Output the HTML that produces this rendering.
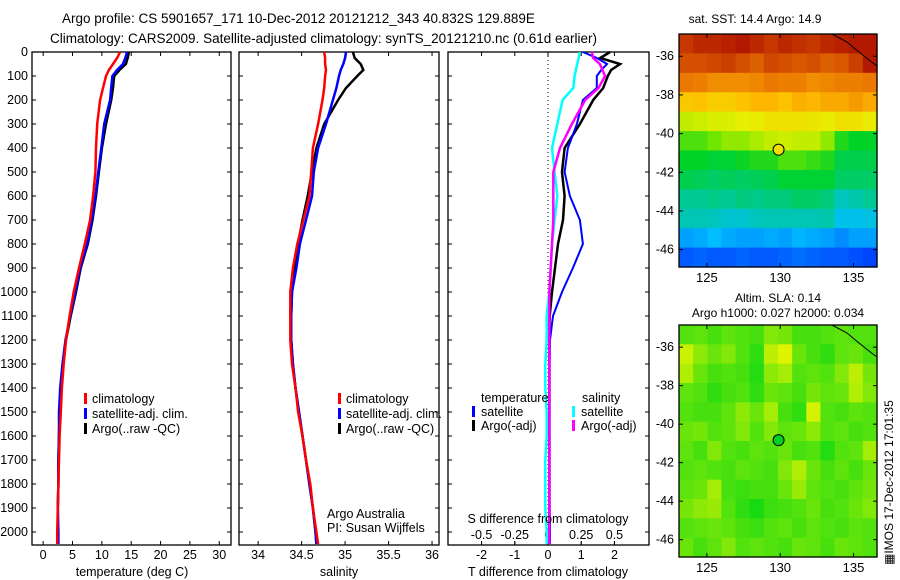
<!DOCTYPE html>
<html><head><meta charset="utf-8"><style>
body{margin:0;background:#fff;}
svg{display:block;font-family:"Liberation Sans",sans-serif;}
</style></head><body>
<svg id="c" width="900" height="580" viewBox="0 0 900 580">
<text x="62" y="23" font-size="13.5">Argo profile: CS 5901657_171 10-Dec-2012 20121212_343 40.832S 129.889E</text>
<text x="50" y="43" font-size="13.5">Climatology: CARS2009. Satellite-adjusted climatology: synTS_20121210.nc (0.61d earlier)</text>
<text x="755" y="23" font-size="12" text-anchor="middle">sat. SST: 14.4 Argo: 14.9</text>
<text x="778" y="302" font-size="12" text-anchor="middle">Altim. SLA: 0.14</text>
<text x="778" y="317" font-size="12" text-anchor="middle">Argo h1000: 0.027 h2000: 0.034</text>
<text transform="translate(893,565) rotate(-90)" font-size="12">&#9638;IMOS 17-Dec-2012 17:01:35</text>
<g id="g"></g>
</svg>
<script>
// ---------- data ----------
const depths = [0,25,50,75,100,150,200,300,400,500,600,700,800,900,1000,1100,1200,1300,1400,1500,1600,1700,1800,1900,2000,2050];
const tempClim = [13.1,12.6,11.9,11.2,10.7,10.2,9.7,9.2,9.0,8.9,8.5,8.0,7.1,6.1,5.2,4.5,3.9,3.5,3.2,3.0,2.8,2.7,2.6,2.5,2.4,2.4];
const tempSat  = [14.3,14.0,13.6,12.6,11.8,11.6,11.4,10.4,9.9,9.4,8.9,8.3,7.5,6.3,5.5,4.6,3.8,3.3,2.9,2.7,2.7,2.6,2.6,2.5,2.6,2.6];
const tempArgo = [14.6,14.4,14.1,13.0,12.1,11.9,11.6,10.7,10.0,9.5,9.0,8.4,7.6,6.4,5.6,4.7,3.9,3.4,3.0,2.8,2.7,2.6,2.6,2.5,2.5,2.5];
const salClim = [34.76,34.77,34.77,34.78,34.77,34.76,34.74,34.69,34.63,34.61,34.59,34.52,34.45,34.40,34.37,34.37,34.37,34.39,34.43,34.46,34.51,34.55,34.60,34.63,34.67,34.69];
const salSat  = [35.01,35.00,34.98,34.95,34.93,34.90,34.86,34.78,34.69,34.64,34.62,34.55,34.48,34.44,34.39,34.38,34.38,34.40,34.43,34.47,34.51,34.55,34.59,34.63,34.66,34.67];
const salArgo = [35.09,35.11,35.18,35.21,35.14,35.01,34.92,34.76,34.67,34.62,34.57,34.51,34.46,34.42,34.39,34.38,34.38,34.40,34.43,34.47,34.51,34.55,34.59,34.63,34.66,34.67];
const dTsat  = [1.05,1.47,1.78,1.6,1.47,1.47,1.05,0.87,0.6,0.5,0.66,0.96,1.05,0.75,0.42,0.15,0.06,0.05,0.05,0.05,0.05,0.05,0.05,0.05,0.06,0.06];
const dTargo = [1.87,1.57,2.17,1.9,1.8,1.66,1.36,0.96,0.5,0.42,0.5,0.45,0.3,0.21,0.12,0.05,0.04,0.04,0.04,0.04,0.04,0.04,0.04,0.04,0.04,0.04];
const dSargo = [0.33,0.34,0.39,0.41,0.43,0.38,0.28,0.18,0.09,0.04,0.04,0.04,0.03,0.02,0.01,0.01,0.01,0.01,0.01,0.01,0.01,0.01,0.01,0.01,0.01,0.01];
const dSsat  = [0.24,0.23,0.22,0.21,0.2,0.19,0.11,0.07,0.03,0.05,0.07,0.05,0.03,0.02,0.01,-0.01,-0.01,-0.02,-0.02,-0.01,-0.01,-0.02,-0.02,-0.02,-0.01,-0.01];
const depthTicks = [0,100,200,300,400,500,600,700,800,900,1000,1100,1200,1300,1400,1500,1600,1700,1800,1900,2000];
const tempTicks = [0,5,10,15,20,25,30];
const salTicks = [34,34.5,35,35.5,36];
const salTickLabels = ["34","34.5","35","35.5","36"];
const dTTicks = [-2,-1,0,1,2];
const dSTicks = [-0.5,-0.25,0,0.25,0.5];
const dSTickLabels = ["-0.5","-0.25","0","0.25","0.5"];
const latTicks = [-36,-38,-40,-42,-44,-46];
const lonTicks = [125,130,135];
const argoLon = 129.889, argoLat = -40.832;
// SST map (0..1 on jet scale), rows north->south
const sstGrid = [
[.93,.95,.95,.96,.97,.95,.93,.95,.94,.93,.95,.96,.97,.97],
[.90,.90,.91,.92,.90,.88,.91,.90,.89,.90,.88,.89,.92,.97],
[.85,.84,.82,.82,.82,.83,.85,.84,.84,.82,.83,.84,.84,.85],
[.73,.74,.72,.72,.74,.76,.76,.74,.77,.76,.78,.78,.80,.78],
[.62,.63,.64,.64,.65,.66,.68,.68,.68,.67,.66,.68,.68,.66],
[.52,.52,.55,.58,.58,.60,.62,.63,.62,.62,.58,.48,.45,.45],
[.45,.45,.44,.44,.46,.48,.48,.52,.52,.50,.48,.42,.42,.42],
[.42,.41,.40,.41,.40,.41,.42,.44,.44,.44,.44,.40,.40,.40],
[.36,.36,.37,.36,.38,.37,.38,.38,.40,.40,.38,.32,.34,.36],
[.33,.33,.32,.30,.30,.32,.33,.33,.33,.33,.34,.27,.27,.28],
[.22,.23,.25,.23,.22,.22,.23,.22,.24,.23,.22,.20,.22,.22],
[.15,.16,.15,.15,.16,.15,.15,.16,.17,.16,.15,.15,.14,.13]];
// SLA map (0 = green, 1 = yellow)
const slaGrid = [
[.35,.40,.30,.40,.35,.30,.55,.50,.30,.30,.35,.40,.35,.35],
[.85,.60,.45,.55,.35,.20,.80,.95,.45,.30,.20,.40,.45,.30],
[.75,.45,.30,.35,.30,.15,.60,.70,.35,.40,.35,.55,.80,.50],
[.40,.35,.20,.30,.35,.20,.45,.40,.30,.50,.40,.45,.75,.55],
[.35,.30,.30,.40,.60,.45,.70,.30,.20,.90,.35,.30,.40,.35],
[.45,.50,.35,.40,.55,.35,.55,.40,.45,.60,.35,.40,.30,.35],
[.40,.30,.55,.35,.30,.40,.35,.45,.30,.35,.15,.35,.40,.70],
[.35,.40,.35,.30,.40,.35,.30,.55,.75,.45,.30,.40,.30,.45],
[.40,.45,.70,.30,.25,.30,.30,.45,.65,.40,.35,.30,.40,.50],
[.50,.60,.65,.35,.20,.10,.25,.30,.35,.45,.30,.35,.45,.55],
[.35,.40,.45,.40,.30,.25,.35,.40,.30,.40,.35,.30,.40,.35],
[.45,.30,.40,.55,.35,.40,.35,.30,.45,.40,.30,.45,.40,.35]];

// ---------- layout ----------
const NS="http://www.w3.org/2000/svg", G=document.getElementById('g');
function el(tag, attrs, parent){const e=document.createElementNS(NS,tag);for(const k in attrs)e.setAttribute(k,attrs[k]);(parent||G).appendChild(e);return e;}
const plotTop=52, plotBot=545;
const yD = d => plotTop + d*0.24;
const P1={l:32,r:231,x0:-1.9,x1:32.0};
const P2={l:239,r:439,x0:33.78,x1:36.08};
const P3={l:448,r:649,x0:-3.01,x1:3.04};
const sx=(P,v)=>P.l+(v-P.x0)/(P.x1-P.x0)*(P.r-P.l);
const dSx = v => sx(P3, v*4);

function frame(P,name){
  const r=el('rect',{x:P.l,y:plotTop,width:P.r-P.l,height:plotBot-plotTop,fill:'none',stroke:'#000','stroke-width':1.3});
  
  
  depthTicks.forEach(d=>{
    el('line',{x1:P.l,x2:P.l+4,y1:yD(d),y2:yD(d),stroke:'#000'});
    el('line',{x1:P.r,x2:P.r-4,y1:yD(d),y2:yD(d),stroke:'#000'});
  });
}
function xTicks(P,ticks,labels,fn,name){
  ticks.forEach((v,i)=>{
    const x=fn(v);
    el('line',{x1:x,x2:x,y1:plotBot,y2:plotBot-4,stroke:'#000'});
    el('line',{x1:x,x2:x,y1:plotTop,y2:plotTop+4,stroke:'#000'});
    const t=el('text',{x:x,y:plotBot+14,'font-size':12.5,'text-anchor':'middle'});
    t.textContent=labels[i];
    
    
  });
}
function line(xs,fn,color,w,name){
  let pts=[];
  depths.forEach((d,i)=>{pts.push(fn(xs[i]).toFixed(1)+','+yD(d).toFixed(1));});
  const p=el('polyline',{points:pts.join(' '),fill:'none',stroke:color,'stroke-width':w,'stroke-linejoin':'miter'});
  
  
}
function txt(x,y,s,name,opts){
  const t=el('text',Object.assign({x:x,y:y,'font-size':12.5},opts||{}));
  t.textContent=s;
  
  
  return t;
}
function legendBar(x,y,color,name){
  const r=el('rect',{x:x,y:y-10,width:3,height:11,fill:color});
  
  
}

// Panel 1
frame(P1,'temperature-panel');
depthTicks.forEach(d=>{
  txt(P1.l-4,yD(d)+4,String(d),'depth-tick-label',{'text-anchor':'end'});
});
xTicks(P1,tempTicks,tempTicks.map(String),v=>sx(P1,v),'temperature-tick-label');
txt(132,576,'temperature (deg C)','temperature-axis-title',{'text-anchor':'middle'});
line(tempArgo,v=>sx(P1,v),'#000',2.5,'temp-argo-line');
line(tempSat,v=>sx(P1,v),'#00f',2.5,'temp-satellite-line');
line(tempClim,v=>sx(P1,v),'#f00',2.5,'temp-climatology-line');
legendBar(84,403,'#f00','legend-climatology-marker');txt(92,403,'climatology','legend-climatology');
legendBar(84,418,'#00f','legend-satellite-marker');txt(92,418,'satellite-adj. clim.','legend-satellite');
legendBar(84,433,'#000','legend-argo-marker');txt(92,433,'Argo(..raw -QC)','legend-argo');

// Panel 2
frame(P2,'salinity-panel');
xTicks(P2,salTicks,salTickLabels,v=>sx(P2,v),'salinity-tick-label');
txt(339,576,'salinity','salinity-axis-title',{'text-anchor':'middle'});
line(salArgo,v=>sx(P2,v),'#000',2.5,'sal-argo-line');
line(salSat,v=>sx(P2,v),'#00f',2.5,'sal-satellite-line');
line(salClim,v=>sx(P2,v),'#f00',2.5,'sal-climatology-line');
legendBar(338,403,'#f00','legend2-climatology-marker');txt(346,403,'climatology','legend2-climatology');
legendBar(338,418,'#00f','legend2-satellite-marker');txt(346,418,'satellite-adj. clim.','legend2-satellite');
legendBar(338,433,'#000','legend2-argo-marker');txt(346,433,'Argo(..raw -QC)','legend2-argo');
txt(327,518,'Argo Australia','argo-australia-label');
txt(327,532,'PI: Susan Wijffels','pi-label');

// Panel 3
frame(P3,'difference-panel');
el('line',{x1:sx(P3,0),x2:sx(P3,0),y1:plotTop,y2:plotBot,stroke:'#000','stroke-dasharray':'1,3'});
xTicks(P3,dTTicks,dTTicks.map(String),v=>sx(P3,v),'t-diff-tick-label');
dSTicks.forEach((v,i)=>{
  const x=dSx(v);
  el('line',{x1:x,x2:x,y1:plotBot,y2:plotBot-4,stroke:'#000'});
  txt(x,539,dSTickLabels[i],'s-diff-tick-label',{'text-anchor':'middle'});
});
line(dSsat,dSx,'#0ff',2.5,'s-diff-satellite-line');
line(dTargo,v=>sx(P3,v),'#000',2.5,'t-diff-argo-line');
line(dTsat,v=>sx(P3,v),'#00f',2,'t-diff-satellite-line');
line(dSargo,dSx,'#f0f',2.5,'s-diff-argo-line');
txt(548,523,'S difference from climatology','s-diff-axis-title',{'text-anchor':'middle'});
txt(548,576,'T difference from climatology','t-diff-axis-title',{'text-anchor':'middle'});
txt(481,402,'temperature','legend3-temperature-header');
legendBar(472,416,'#00f','legend3-t-sat-marker');txt(481,416,'satellite','legend3-t-sat');
legendBar(472,430,'#000','legend3-t-argo-marker');txt(481,430,'Argo(-adj)','legend3-t-argo');
txt(582,402,'salinity','legend3-salinity-header');
legendBar(572,416,'#0ff','legend3-s-sat-marker');txt(581,416,'satellite','legend3-s-sat');
legendBar(572,430,'#f0f','legend3-s-argo-marker');txt(581,430,'Argo(-adj)','legend3-s-argo');

// ---------- maps ----------
function jet(v){
  const stops=[[0,[0,0,150]],[.12,[0,60,255]],[.25,[0,190,255]],[.35,[0,200,160]],[.45,[0,210,40]],[.55,[110,230,0]],[.65,[230,240,0]],[.75,[255,190,0]],[.85,[235,120,0]],[1,[165,0,0]]];
  for(let i=1;i<stops.length;i++){if(v<=stops[i][0]){const a=stops[i-1],b=stops[i],t=(v-a[0])/(b[0]-a[0]);return 'rgb('+a[1].map((c,k)=>Math.round(c+(b[1][k]-c)*t)).join(',')+')';}}
  return 'rgb(165,0,0)';
}
function slaCol(v){const a=[0,215,20],b=[235,245,0];return 'rgb('+a.map((c,k)=>Math.round(c+(b[k]-c)*v)).join(',')+')';}
function map(M,grid,cf,dotFill,name){
  const lon0=123.1,lon1=136.6,lat0=-34.85,lat1=-46.9;
  const mx=v=>M.l+(v-lon0)/(lon1-lon0)*(M.r-M.l);
  const my=v=>M.t+(v-lat0)/(lat1-lat0)*(M.b-M.t);
  const rows=grid.length, cols=grid[0].length;
  const cw=(M.r-M.l)/cols, ch=(M.b-M.t)/rows;
  const g=el('g',{});
  
  
  grid.forEach((row,i)=>row.forEach((v,j)=>{
    const c=el('rect',{x:M.l+j*cw,y:M.t+i*ch,width:cw+0.6,height:ch+0.6,fill:cf(v)},g);
    
    
  }));
  el('polyline',{points:[[M.r-45,M.t],[M.r-30,M.t+8],[M.r-18,M.t+18],[M.r-8,M.t+26],[M.r,M.t+32]].map(p=>p.join(',')).join(' '),fill:'none',stroke:'#000','stroke-width':1});
  el('rect',{x:M.l,y:M.t,width:M.r-M.l,height:M.b-M.t,fill:'none',stroke:'#000','stroke-width':1.3});
  latTicks.forEach(v=>{
    const y=my(v);
    el('line',{x1:M.l,x2:M.l+4,y1:y,y2:y,stroke:'#000'});
    el('line',{x1:M.r,x2:M.r-4,y1:y,y2:y,stroke:'#000'});
    txt(M.l-5,y+4,String(v),'map-lat-label',{'text-anchor':'end'});
  });
  lonTicks.forEach(v=>{
    const x=mx(v);
    el('line',{x1:x,x2:x,y1:M.b,y2:M.b-4,stroke:'#000'});
    el('line',{x1:x,x2:x,y1:M.t,y2:M.t+4,stroke:'#000'});
    txt(x,M.b+15,String(v),'map-lon-label',{'text-anchor':'middle','font-size':13});
  });
  const d=el('circle',{cx:mx(argoLon),cy:my(argoLat),r:5.5,fill:dotFill,stroke:'#000','stroke-width':1});
  
  
}
map({l:679,r:877,t:34,b:267},sstGrid,jet,'#f0e000','sst-map');
map({l:679,r:877,t:325,b:557},slaGrid,slaCol,'#00d020','sla-map');
</script>
</body></html>
